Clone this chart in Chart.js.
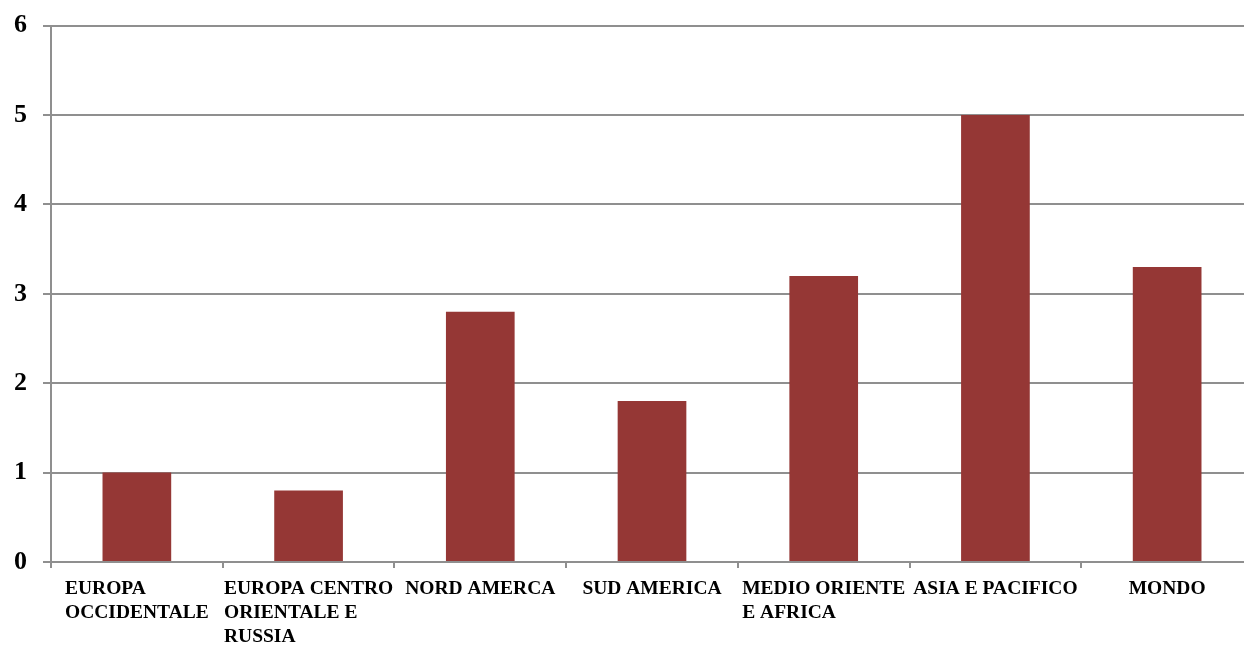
<!DOCTYPE html>
<html>
<head>
<meta charset="utf-8">
<script src="https://cdn.jsdelivr.net/npm/chart.js@4.4.0/dist/chart.umd.min.js"></script>
<style>
    html, body { margin: 0; padding: 0; background: #fff; overflow: hidden; }
    #wrap { position: relative; width: 1253px; height: 651px; margin-top: -6px; }
</style>
</head>
<body>
<div id="wrap"><canvas id="chart"></canvas></div>
<script>
// Data
const categories = [
    ['EUROPA', 'OCCIDENTALE'],
    ['EUROPA CENTRO', 'ORIENTALE E', 'RUSSIA'],
    ['NORD AMERCA'],
    ['SUD AMERICA'],
    ['MEDIO ORIENTE', 'E AFRICA'],
    ['ASIA E PACIFICO'],
    ['MONDO']
];
const values = [1, 0.8, 2.8, 1.8, 3.2, 5, 3.3];
const yTicks = [0, 1, 2, 3, 4, 5, 6];

const labelFont = 'bold 19.5px "Liberation Serif", serif';
const gridColor = '#8f8f8f';

// draws the category labels as blocks centred under each bar, lines left aligned
const blockLabels = {
    id: 'blockLabels',
    afterDraw(chart) {
        const ctx = chart.ctx;
        const xScale = chart.scales.x;
        ctx.save();
        ctx.font = labelFont;
        ctx.fillStyle = '#000';
        ctx.textAlign = 'left';
        ctx.textBaseline = 'top';
        categories.forEach((lines, i) => {
            const cx = xScale.getPixelForValue(i);
            const w = Math.max(...lines.map(l => ctx.measureText(l).width));
            lines.forEach((line, j) => {
                ctx.fillText(line, cx - w / 2, xScale.top + 17 + j * 24);
            });
        });
        ctx.restore();
    }
};

const ctx = document.getElementById('chart').getContext('2d');
new Chart(ctx, {
    type: 'bar',
    data: {
        labels: categories.map(l => l.join(' ')),
        datasets: [{
            data: values,
            backgroundColor: '#953735',
            barPercentage: 0.4,
            categoryPercentage: 1
        }]
    },
    options: {
        responsive: true,
        maintainAspectRatio: false,
        animation: false,
        layout: { padding: { top: 22, right: 0, left: 0, bottom: 0 } },
        plugins: {
            legend: { display: false },
            tooltip: { enabled: false }
        },
        scales: {
            x: {
                grid: {
                    drawOnChartArea: false,
                    drawTicks: true,
                    tickLength: 6,
                    color: gridColor,
                    lineWidth: 2
                },
                border: { color: gridColor, width: 2 },
                ticks: { display: false },
                afterFit(scale) { scale.height = 83; }
            },
            y: {
                min: 0,
                max: 6,
                afterBuildTicks(scale) {
                    scale.ticks = yTicks.map(v => ({ value: v }));
                },
                grid: {
                    color: gridColor,
                    lineWidth: 2,
                    tickLength: 8
                },
                border: { color: gridColor, width: 2 },
                ticks: {
                    color: '#000',
                    padding: 16,
                    font: { family: '"Liberation Serif", serif', size: 26, weight: 'bold' }
                },
                afterFit(scale) { scale.width = 51; }
            }
        }
    },
    plugins: [blockLabels]
});
</script>
</body>
</html>
